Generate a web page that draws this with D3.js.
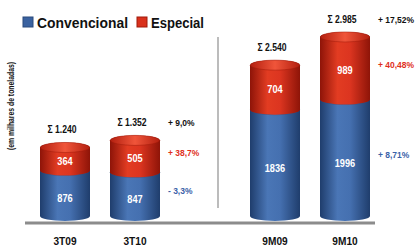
<!DOCTYPE html>
<html>
<head>
<meta charset="utf-8">
<script src="https://cdn.jsdelivr.net/npm/d3@7"></script>
<style>
	body { margin: 0; background: #fff; }
	svg { display: block; font-family: "Liberation Sans", Arial, sans-serif; font-weight: bold; }
</style>
</head>
<body>
<div id="chart"></div>
<script>
const categories = ["3T09", "3T10", "9M09", "9M10"];
const convencional = [876, 847, 1836, 1996];
const especial = [364, 505, 704, 989];
const totalLabels = ["Σ 1.240", "Σ 1.352", "Σ 2.540", "Σ 2.985"];
// growth per group: [total, especial, convencional], shown right of the second bar
const growthGroups = ["3T10", "9M10"];
const growthTotal = ["+ 9,0%", "+ 17,52%"];
const growthEspecial = ["+ 38,7%", "+ 40,48%"];
const growthConv = ["- 3,3%", "+ 8,71%"];

const width = 417, height = 246;
const barW = 50, ry = 5;
const blue = "#3a62a0", red = "#d9311c";

const svg = d3.select("#chart").append("svg")
	.attr("width", width)
	.attr("height", height);

const defs = svg.append("defs");
function hGrad(id, stops) {
	const g = defs.append("linearGradient").attr("id", id)
		.attr("x1", "0%").attr("x2", "100%").attr("y1", "0%").attr("y2", "0%");
	stops.forEach(s => g.append("stop").attr("offset", s[0]).attr("stop-color", s[1]));
}
hGrad("blueBody", [["0%", "#1f3d6c"], ["35%", "#4a76b6"], ["60%", "#4570b0"], ["100%", "#1f3d6c"]]);
hGrad("redBody", [["0%", "#8e1408"], ["35%", "#e23c22"], ["60%", "#dc3520"], ["100%", "#8e1408"]]);
hGrad("blueCap", [["0%", "#2d5390"], ["50%", "#5582c2"], ["100%", "#2d5390"]]);
hGrad("redCap", [["0%", "#b42010"], ["50%", "#f0553a"], ["100%", "#b42010"]]);

// narrower text, closer to the Calibri look of the original
function condense(sel, f) {
	sel.each(function() {
		const w = this.getComputedTextLength();
		d3.select(this).attr("textLength", w * f).attr("lengthAdjust", "spacingAndGlyphs");
	});
}

// x: point scale with a spacer between the two groups
const x = d3.scalePoint()
	.domain(["3T09", "3T10", "gap", "9M09", "9M10"])
	.range([65, 345]);

const y = d3.scaleLinear()
	.domain([0, 3000])
	.range([221, 31]);

const data = categories.map((c, i) => ({
	cat: c, conv: convencional[i], esp: especial[i], total: totalLabels[i]
}));

// axis baseline
svg.append("line")
	.attr("x1", 25).attr("x2", 375)
	.attr("y1", y(0) + 2).attr("y2", y(0) + 2)
	.attr("stroke", "#8c8c8c").attr("stroke-width", 3);

// group separator
svg.append("line")
	.attr("x1", x("gap") + 13).attr("x2", x("gap") + 13)
	.attr("y1", 37).attr("y2", 208)
	.attr("stroke", "#a6a6a6").attr("stroke-width", 1.5);

function cylPath(cx, yTop, yBot) {
	const l = cx - barW / 2, r = cx + barW / 2, rx = barW / 2;
	return `M${l},${yTop} L${l},${yBot} A${rx},${ry} 0 0 0 ${r},${yBot} L${r},${yTop} A${rx},${ry} 0 0 0 ${l},${yTop} Z`;
}

function segment(g, cx, v0, v1, body, cap, edge, overlap) {
	const yB = y(v0) - ry + overlap, yT = y(v1) + ry;
	g.append("path")
		.attr("d", cylPath(cx, yT, yB))
		.attr("fill", `url(#${body})`);
	g.append("ellipse")
		.attr("cx", cx).attr("cy", yT)
		.attr("rx", barW / 2 - 0.5).attr("ry", ry)
		.attr("fill", `url(#${cap})`)
		.attr("stroke", edge).attr("stroke-width", 0.5);
}

const bars = svg.append("g");
data.forEach(d => {
	const cx = x(d.cat);
	segment(bars, cx, 0, d.conv, "blueBody", "blueCap", "#2a4a7c", 0);
	segment(bars, cx, d.conv, d.conv + d.esp, "redBody", "redCap", "#a01a0a", 2 * ry);
});

// value labels inside segments
svg.append("g").selectAll("text.conv")
	.data(data).enter().append("text")
	.attr("x", d => x(d.cat))
	.attr("y", d => (y(0) + y(d.conv)) / 2 + 9)
	.attr("text-anchor", "middle")
	.attr("fill", "#fff").attr("font-size", 10)
	.text(d => d.conv)
	.call(condense, 0.92);

svg.append("g").selectAll("text.esp")
	.data(data).enter().append("text")
	.attr("x", d => x(d.cat))
	.attr("y", d => (y(d.conv) + y(d.conv + d.esp)) / 2 + 11)
	.attr("text-anchor", "middle")
	.attr("fill", "#fff").attr("font-size", 10)
	.text(d => d.esp)
	.call(condense, 0.92);

// totals
svg.append("g").selectAll("text")
	.data(data).enter().append("text")
	.attr("x", d => x(d.cat) - 3)
	.attr("y", d => y(d.conv + d.esp) - 9)
	.attr("text-anchor", "middle")
	.attr("fill", "#111").attr("font-size", 10)
	.text(d => d.total)
	.call(condense, 0.86);

// growth labels
growthGroups.forEach((c, i) => {
	const d = data.find(e => e.cat === c);
	const gx = x(c) + 33;
	svg.append("text")
		.attr("x", gx).attr("y", y(d.conv + d.esp) - 9)
		.attr("font-size", 9).attr("fill", "#111")
		.text(growthTotal[i])
		.call(condense, 0.94);
	svg.append("text")
		.attr("x", gx).attr("y", (y(d.conv) + y(d.conv + d.esp)) / 2 + 5)
		.attr("font-size", 9).attr("fill", "#e0301c")
		.text(growthEspecial[i])
		.call(condense, 0.94);
	svg.append("text")
		.attr("x", gx).attr("y", (y(0) + y(d.conv)) / 2)
		.attr("font-size", 9).attr("fill", "#3a62a8")
		.text(growthConv[i])
		.call(condense, 0.94);
});

// category labels
svg.append("g").selectAll("text")
	.data(categories).enter().append("text")
	.attr("x", d => x(d))
	.attr("y", 245)
	.attr("text-anchor", "middle")
	.attr("fill", "#111").attr("font-size", 11)
	.text(d => d)
	.call(condense, 0.92);

// y label
svg.append("text")
	.attr("transform", "translate(14,106) rotate(-90)")
	.attr("text-anchor", "middle")
	.attr("font-size", 8.5).attr("fill", "#111")
	.attr("textLength", 88).attr("lengthAdjust", "spacingAndGlyphs")
	.text("(em milhares de toneladas)");

// legend
const legend = svg.append("g").attr("transform", "translate(23,13)");
[["Convencional", blue, "#2a4a7c", 0, 91], ["Especial", red, "#a01a0a", 114, 53]].forEach(l => {
	legend.append("rect")
		.attr("x", l[3]).attr("y", 4).attr("width", 10).attr("height", 10)
		.attr("fill", l[1]).attr("stroke", l[2]);
	legend.append("text")
		.attr("x", l[3] + 14).attr("y", 15)
		.attr("font-size", 15).attr("fill", "#111")
		.attr("textLength", l[4]).attr("lengthAdjust", "spacingAndGlyphs")
		.text(l[0]);
});
</script>
</body>
</html>
